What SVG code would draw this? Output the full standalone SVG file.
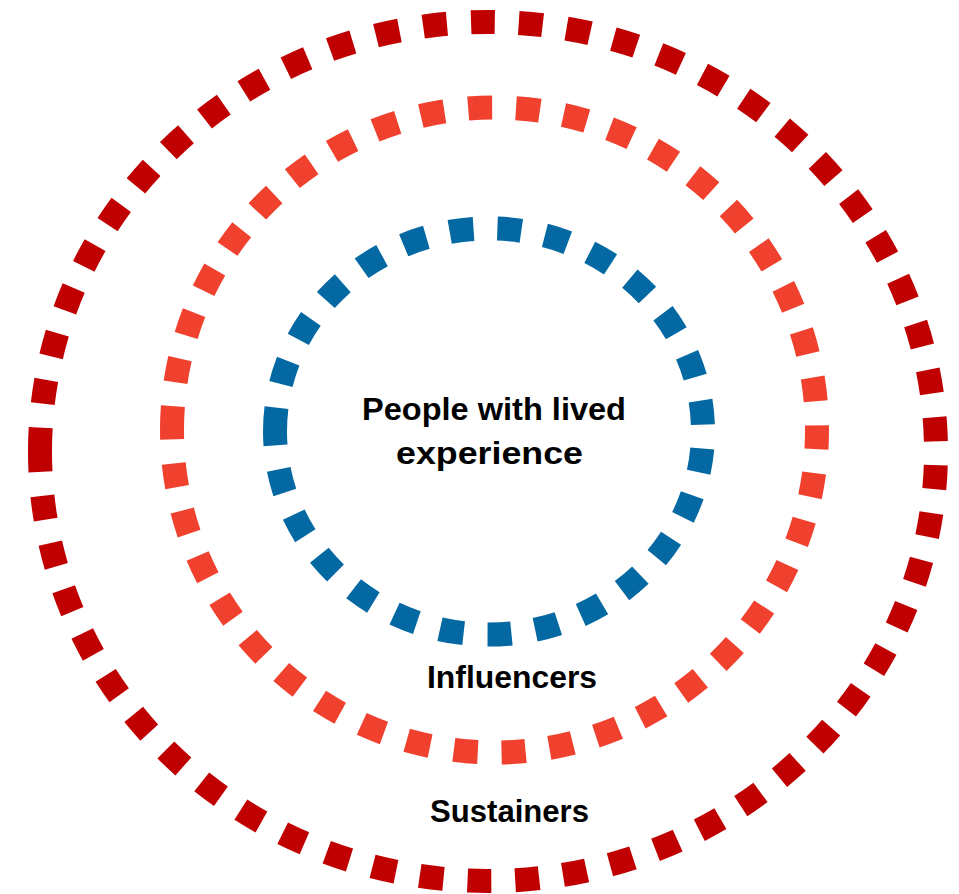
<svg xmlns="http://www.w3.org/2000/svg" width="959" height="894" viewBox="0 0 959 894">
<style>
.ring{fill:none;stroke-width:24;stroke-dasharray:24 24;stroke-linecap:butt}
.outer{stroke:#C00000}
.middle{stroke:#F0412F}
.inner{stroke:#0468A3}
.lbl{font-family:"Liberation Sans",Arial,sans-serif;font-weight:bold;font-size:32px;fill:#000;text-anchor:middle}
</style>
<rect width="959" height="894" fill="#fff"/>
<g id="sustainers">
<path class="ring outer" d="M40,451.5 A448,429.5 0 1 1 936,451.5 A448,429.5 0 1 1 40,451.5"/>
<text class="lbl" x="509.5" y="822" textLength="159" lengthAdjust="spacingAndGlyphs">Sustainers</text>
</g>
<g id="influencers">
<path class="ring middle" d="M172,430 A322.5,322.5 0 1 1 817,430 A322.5,322.5 0 1 1 172,430"/>
<text class="lbl" x="512" y="688" textLength="170" lengthAdjust="spacingAndGlyphs">Influencers</text>
</g>
<g id="people">
<path class="ring inner" d="M275,431.5 A214,203 0 1 1 703,431.5 A214,203 0 1 1 275,431.5"/>
<text class="lbl" x="494" y="420" textLength="264" lengthAdjust="spacingAndGlyphs">People with lived</text>
<text class="lbl" x="489.5" y="464" textLength="187" lengthAdjust="spacingAndGlyphs">experience</text>
</g>
<g id="connectors"></g>
</svg>
